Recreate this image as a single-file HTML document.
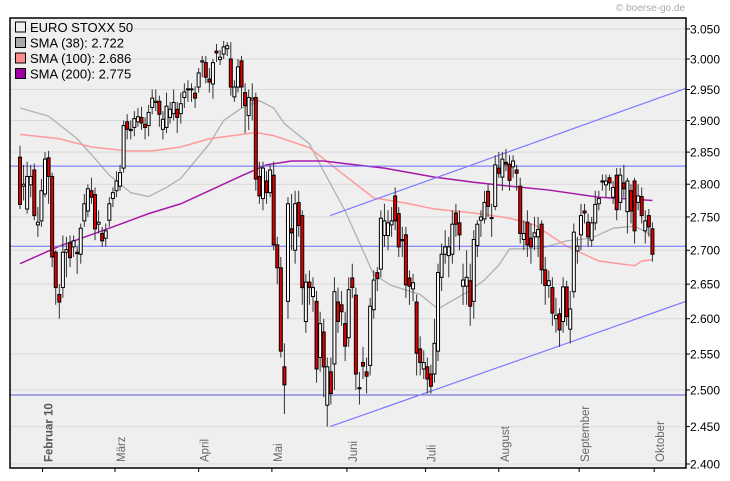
<!DOCTYPE html>
<html><head><meta charset="utf-8"><style>
html,body{margin:0;padding:0;background:#fff;width:730px;height:481px;overflow:hidden}
svg{display:block;font-family:"Liberation Sans",sans-serif}
</style></head><body>
<svg id="chart" width="730" height="481">
<text x="685" y="11" text-anchor="end" font-size="10" fill="#aaa">© boerse-go.de</text>
</svg>
<script>
const opens=[2842,2797,2762,2799,2822,2738,2744,2785,2841,2812,2697,2635,2645,2697,2711,2705,2697,2694,2744,2759,2790,2784,2739,2725,2718,2745,2778,2790,2797,2825,2898,2886,2889,2898,2905,2894,2892,2921,2929,2931,2886,2889,2905,2911,2918,2911,2937,2950,2950,2944,2954,2995,2994,2967,2959,3013,2999,3008,3017,3000,2938,2954,2997,2945,2908,2933,2937,2812,2778,2805,2787,2814,2708,2674,2532,2625,2732,2700,2772,2752,2596,2653,2632,2625,2545,2581,2479,2525,2536,2624,2620,2593,2573,2659,2634,2503,2538,2525,2534,2613,2667,2672,2722,2722,2738,2782,2755,2716,2723,2659,2643,2624,2557,2529,2532,2522,2522,2554,2660,2694,2692,2694,2756,2741,2647,2647,2655,2625,2707,2745,2747,2789,2749,2766,2825,2811,2834,2831,2827,2822,2797,2716,2742,2718,2720,2720,2739,2671,2648,2645,2600,2607,2596,2646,2585,2639,2699,2723,2759,2742,2715,2741,2770,2805,2799,2810,2780,2814,2772,2802,2758,2790,2805,2772,2781,2729,2752,2732];
const closes=[2769,2800,2812,2812,2752,2742,2790,2839,2812,2690,2645,2624,2697,2701,2689,2714,2695,2733,2770,2793,2780,2732,2742,2714,2729,2770,2787,2805,2818,2892,2886,2884,2903,2906,2896,2889,2913,2936,2931,2910,2902,2923,2918,2929,2905,2927,2946,2951,2951,2936,2977,2997,2970,2962,2994,3010,3003,3020,3022,2954,2954,2987,2954,2924,2937,2936,2808,2782,2825,2787,2822,2708,2674,2554,2507,2770,2726,2770,2737,2645,2653,2645,2645,2529,2593,2532,2532,2495,2639,2596,2610,2561,2642,2645,2522,2502,2533,2519,2618,2656,2658,2748,2744,2741,2744,2744,2705,2714,2649,2647,2652,2551,2538,2538,2515,2505,2565,2667,2694,2705,2705,2739,2739,2723,2656,2660,2618,2716,2739,2750,2772,2766,2748,2830,2817,2839,2831,2806,2836,2817,2725,2725,2708,2705,2726,2731,2671,2648,2655,2608,2605,2584,2646,2603,2614,2727,2706,2752,2756,2720,2741,2769,2778,2804,2805,2802,2795,2761,2814,2793,2805,2759,2729,2782,2752,2744,2735,2694];
const highs=[2860,2830,2835,2830,2832,2765,2808,2850,2852,2818,2700,2650,2722,2720,2722,2722,2705,2740,2785,2800,2810,2795,2760,2735,2740,2780,2795,2820,2830,2900,2910,2900,2915,2920,2922,2905,2925,2950,2950,2940,2915,2945,2930,2950,2930,2945,2960,2965,2960,2955,2985,3005,3005,2985,3000,3025,3015,3030,3028,3028,2965,3000,3005,2960,2950,2960,2945,2835,2835,2820,2830,2835,2720,2690,2565,2780,2785,2790,2790,2760,2665,2670,2660,2640,2610,2600,2545,2545,2660,2645,2640,2610,2660,2680,2645,2525,2560,2545,2630,2670,2675,2760,2770,2760,2765,2795,2765,2735,2735,2670,2665,2635,2575,2555,2545,2535,2600,2680,2710,2730,2720,2760,2770,2760,2680,2700,2680,2730,2745,2760,2790,2800,2770,2845,2850,2850,2855,2845,2845,2830,2810,2745,2760,2740,2750,2750,2745,2690,2670,2660,2630,2615,2660,2655,2640,2740,2720,2770,2770,2755,2750,2790,2790,2815,2815,2815,2805,2825,2825,2830,2810,2800,2810,2800,2795,2760,2762,2742];
const lows=[2762,2775,2755,2780,2745,2720,2735,2780,2770,2675,2620,2600,2630,2660,2675,2690,2665,2680,2735,2750,2770,2715,2725,2705,2705,2735,2765,2780,2790,2818,2870,2870,2875,2890,2885,2870,2875,2910,2915,2890,2870,2880,2895,2900,2880,2895,2920,2930,2930,2920,2945,2970,2960,2945,2935,2995,2990,3000,3005,2940,2930,2945,2920,2880,2885,2900,2790,2770,2760,2770,2780,2700,2650,2545,2467,2600,2700,2680,2720,2620,2580,2620,2610,2510,2525,2490,2450,2480,2500,2580,2590,2540,2560,2630,2500,2480,2515,2495,2520,2600,2640,2660,2705,2700,2720,2730,2690,2690,2630,2620,2625,2520,2520,2515,2495,2495,2510,2540,2640,2680,2660,2680,2720,2700,2620,2620,2590,2600,2690,2720,2740,2750,2720,2760,2810,2790,2820,2790,2810,2790,2710,2700,2690,2680,2700,2690,2650,2620,2630,2590,2580,2560,2580,2590,2565,2630,2680,2700,2740,2705,2705,2730,2760,2790,2780,2790,2770,2745,2760,2780,2725,2740,2710,2760,2740,2710,2720,2683];
const sma38Idx=[0,8,16,20,25,31,36,41,45,53,57,62,67,71,74,81,85,91,99,104,112,117,120,125,130,134,137,146,153,160,166,172,177];
const sma38Val=[2920,2907,2871,2846,2814,2787,2781,2795,2809,2863,2900,2920,2932,2920,2895,2863,2820,2759,2664,2648,2635,2614,2623,2638,2656,2678,2702,2703,2714,2718,2733,2736,2722];
const sma100Idx=[0,11,20,30,37,45,53,66,71,81,91,99,108,116,127,137,144,153,162,172,174,177];
const sma100Val=[2878,2871,2858,2852,2852,2858,2871,2881,2876,2857,2813,2779,2771,2762,2756,2748,2738,2706,2684,2677,2684,2686];
const sma200Idx=[0,11,25,36,45,53,62,69,76,85,91,102,116,127,137,148,162,172,177];
const sma200Val=[2680,2706,2733,2755,2770,2790,2813,2830,2836,2836,2832,2825,2811,2803,2797,2791,2780,2777,2775];
const hLevels=[2828,2706,2493];
const trendUpper=[[86.8,2752],[186.4,2952]];
const trendLower=[[86.8,2450],[186.4,2625]];
const yTicks=[2400,2450,2500,2550,2600,2650,2700,2750,2800,2850,2900,2950,3000,3050];
const monthLabels=["Februar 10","März","April","Mai","Juni","Juli","August","September","Oktober"];
const monthIdx=[6.3,26.6,50,70.5,91.5,113.5,134,156.5,177.5];

const NS="http://www.w3.org/2000/svg";
const svg=document.getElementById('chart');
const L=10,R=686,T=18,B=468;
function yOf(v){return 29+(Math.log(3050)-Math.log(v))*1815;}
function xOf(i){return 20+i*3.573;}
function mk(tag,attrs,parent){const e=document.createElementNS(NS,tag);for(const k in attrs)e.setAttribute(k,attrs[k]);(parent||svg).appendChild(e);return e;}

const bg=mk('rect',{x:L,y:T,width:R-L,height:B-T,fill:'#efefef'});


yTicks.forEach(v=>{
  const y=yOf(v);
  const g=mk('line',{x1:L,x2:R,y1:y,y2:y,stroke:'#d9d9d9','stroke-width':1});
  
  
  mk('line',{x1:R,x2:R+4,y1:y,y2:y,stroke:'#000'});
  const t=mk('text',{x:R+4,y:y+4.5,'font-size':12,fill:'#000'});
  t.textContent=(v/1000).toFixed(3);
  
  
});
monthIdx.forEach((m,k)=>{
  const x=xOf(m);
  mk('line',{x1:x,x2:x,y1:B,y2:B+4,stroke:'#000'});
  const t=mk('text',{x:0,y:0,'font-size':11.5,fill:k===0?'#555':'#666','font-weight':k===0?'bold':'normal',transform:`translate(${x+10},${B-6}) rotate(-90)`});
  t.textContent=monthLabels[k];
  
  
});
function poly(idx,val,color,w,name){
  const p=mk('polyline',{points:idx.map((i,k)=>xOf(i)+','+yOf(val[k])).join(' '),fill:'none',stroke:color,'stroke-width':w});
  
  
}
poly(sma38Idx,sma38Val,'#b0b0b0',1.3,'sma-38-line');
poly(sma100Idx,sma100Val,'#ff9a9a',1.5,'sma-100-line');
poly(sma200Idx,sma200Val,'#a818a8',1.5,'sma-200-line');
hLevels.forEach((v,k)=>{
  const h=mk('line',{x1:L,x2:R,y1:yOf(v),y2:yOf(v),stroke:k===2?'#5a5ad8':'#6a6aff','stroke-width':1});
  
  
});
[trendUpper,trendLower].forEach(tl=>{
  const l=mk('line',{x1:xOf(tl[0][0]),y1:yOf(tl[0][1]),x2:Math.min(R,xOf(tl[1][0])),y2:yOf(tl[1][1]),stroke:'#7a7aff','stroke-width':1.2});
  
  
});
opens.forEach((o,i)=>{
  const c=closes[i],x=xOf(i);
  const w=mk('line',{x1:x,x2:x,y1:yOf(highs[i]),y2:yOf(lows[i]),stroke:'#333','stroke-width':1});
  
  
  const top=yOf(Math.max(o,c)),bot=yOf(Math.min(o,c));
  const r=mk('rect',{x:x-1.5,y:top,width:3,height:Math.max(1,bot-top),fill:c<o?'#e00000':'#ffffff',stroke:'#000','stroke-width':1});
  
  
});
const fr=mk('rect',{x:L,y:T,width:R-L,height:B-T,fill:'none',stroke:'#000','stroke-width':1.5});


const legend=[["EURO STOXX 50","#eeeeee"],["SMA (38): 2.722","#a8a8a8"],["SMA (100): 2.686","#ff8c8c"],["SMA (200): 2.775","#a000a0"]];
legend.forEach((e,k)=>{
  const y=27+k*15.5;
  const s=mk('rect',{x:15.5,y:y-5,width:10,height:10,fill:e[1],stroke:'#000','stroke-width':1});
  
  
  const t=mk('text',{x:30,y:y+5,'font-size':13,fill:'#000'});
  t.textContent=e[0];
  
  
});
</script>
</body></html>
